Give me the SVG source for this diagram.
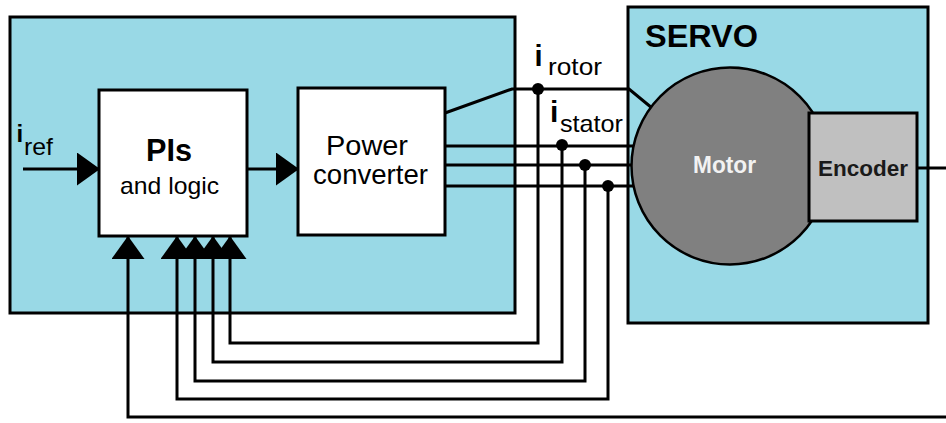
<svg xmlns="http://www.w3.org/2000/svg" width="946" height="423" viewBox="0 0 946 423">
<style>
.box{fill:#99d9e6;stroke:#000;stroke-width:3}
.wbox{fill:#fff;stroke:#000;stroke-width:3}
.wire{fill:none;stroke:#000;stroke-width:3}
.dot{fill:#000}
.t{font-family:"Liberation Sans",Arial,sans-serif;fill:#000}
.b{font-weight:bold}
</style>
<defs>
<marker id="arr" markerUnits="userSpaceOnUse" markerWidth="23" markerHeight="33" refX="22" refY="16.5" orient="auto">
<path d="M0,0 L23,16.5 L0,33 z" fill="#000"/>
</marker>
</defs>
<rect width="946" height="423" fill="#fff"/>
<g id="controller">
<rect class="box" x="10" y="17" width="505" height="296"/>
</g>
<g id="pis">
<rect class="wbox" x="99" y="90" width="148" height="146"/>
<text class="t b" x="146" y="160.5" font-size="31" textLength="46" lengthAdjust="spacingAndGlyphs">PIs</text>
<text class="t" x="120" y="194" font-size="24" textLength="99" lengthAdjust="spacingAndGlyphs">and logic</text>
</g>
<g id="power">
<rect class="wbox" x="298" y="88" width="147" height="147"/>
<text class="t" x="326" y="155" font-size="28" textLength="82" lengthAdjust="spacingAndGlyphs">Power</text>
<text class="t" x="313" y="184" font-size="28" textLength="115" lengthAdjust="spacingAndGlyphs">converter</text>
</g>
<g id="servo">
<rect class="box" x="628" y="7" width="300" height="316"/>
<text class="t b" x="645" y="46.5" font-size="32" textLength="113" lengthAdjust="spacingAndGlyphs">SERVO</text>
</g>
<g id="labels">
<text class="t b" x="16.5" y="142" font-size="24">i</text>
<text class="t" x="24" y="155" font-size="24" textLength="29" lengthAdjust="spacingAndGlyphs">ref</text>
<text class="t b" x="534.5" y="66" font-size="29">i</text>
<text class="t" x="548" y="75" font-size="24" textLength="54" lengthAdjust="spacingAndGlyphs">rotor</text>
<text class="t b" x="550" y="122" font-size="30">i</text>
<text class="t" x="560" y="131.5" font-size="24" textLength="63" lengthAdjust="spacingAndGlyphs">stator</text>
</g>
<g id="connectors">
<line class="wire" x1="23" y1="169" x2="99" y2="169" marker-end="url(#arr)"/>
<line class="wire" x1="247" y1="169" x2="298" y2="169" marker-end="url(#arr)"/>
<polyline class="wire" points="445,113 512,89 629,89 652,108"/>
<line class="wire" x1="445" y1="146" x2="640" y2="146"/>
<line class="wire" x1="445" y1="165" x2="640" y2="165"/>
<line class="wire" x1="445" y1="186" x2="640" y2="186"/>
<polyline class="wire" points="538,89 538,343 230,343 230,237" marker-end="url(#arr)"/>
<polyline class="wire" points="562,145 562,362 213,362 213,237" marker-end="url(#arr)"/>
<polyline class="wire" points="585,165 585,381 195,381 195,237" marker-end="url(#arr)"/>
<polyline class="wire" points="608,186 608,399 177,399 177,237" marker-end="url(#arr)"/>
<polyline class="wire" points="946,417 128,417 128,237" marker-end="url(#arr)"/>
<line class="wire" x1="917" y1="168" x2="946" y2="168"/>
<circle class="dot" cx="538" cy="89" r="6"/>
<circle class="dot" cx="562" cy="145" r="6"/>
<circle class="dot" cx="585" cy="165" r="6"/>
<circle class="dot" cx="608" cy="186" r="6"/>
</g>
<g id="motor">
<circle cx="730" cy="166" r="98.5" fill="#808080" stroke="#000" stroke-width="2.5"/>
<text class="t b" x="693" y="173.3" font-size="23" style="fill:#f2f2f2" textLength="63" lengthAdjust="spacingAndGlyphs">Motor</text>
</g>
<g id="encoder">
<rect x="809" y="113" width="108" height="108" fill="#c0c0c0" stroke="#000" stroke-width="3"/>
<text class="t b" x="818" y="175.7" font-size="22" style="fill:#1a1a1a" textLength="90" lengthAdjust="spacingAndGlyphs">Encoder</text>
</g>
</svg>
